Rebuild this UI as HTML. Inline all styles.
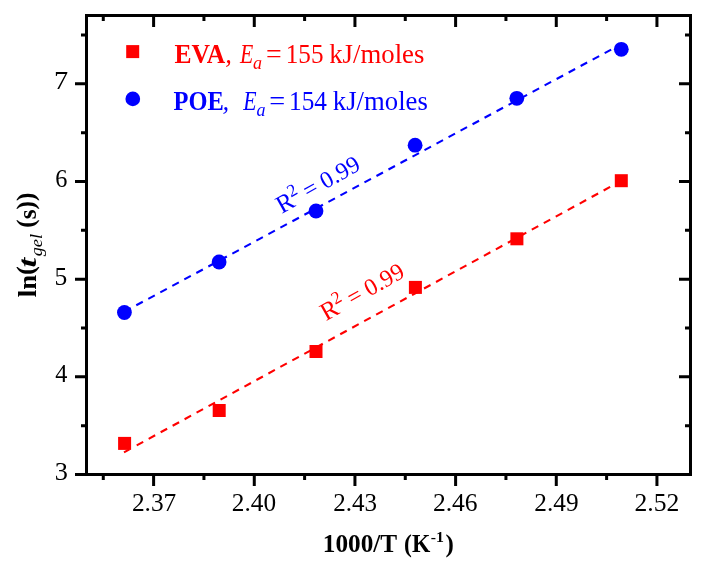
<!DOCTYPE html>
<html><head><meta charset="utf-8"><style>
html,body{margin:0;padding:0;background:#fff;}
body{width:711px;height:569px;overflow:hidden;}
svg{display:block;will-change:transform;}
text{font-family:"Liberation Serif",serif;}

</style></head><body>
<svg width="711" height="569" viewBox="0 0 711 569">
<rect x="0" y="0" width="711" height="569" fill="#fff"/>
<g id="gfx"><path d="M153.61,476.0V486.0 M153.61,14.0V27.0 M254.28,476.0V486.0 M254.28,14.0V27.0 M354.94,476.0V486.0 M354.94,14.0V27.0 M455.61,476.0V486.0 M455.61,14.0V27.0 M556.28,476.0V486.0 M556.28,14.0V27.0 M656.94,476.0V486.0 M656.94,14.0V27.0 M103.28,476.0V480.0 M103.28,14.0V21.0 M203.94,476.0V480.0 M203.94,14.0V21.0 M304.61,476.0V480.0 M304.61,14.0V21.0 M405.28,476.0V480.0 M405.28,14.0V21.0 M505.94,476.0V480.0 M505.94,14.0V21.0 M606.61,476.0V480.0 M606.61,14.0V21.0 M85.0,474.50H75.0 M692.0,474.50H679.0 M85.0,376.84H75.0 M692.0,376.84H679.0 M85.0,279.18H75.0 M692.0,279.18H679.0 M85.0,181.52H75.0 M692.0,181.52H679.0 M85.0,83.86H75.0 M692.0,83.86H679.0 M85.0,425.67H81.0 M692.0,425.67H685.0 M85.0,328.01H81.0 M692.0,328.01H685.0 M85.0,230.35H81.0 M692.0,230.35H685.0 M85.0,132.69H81.0 M692.0,132.69H685.0 M85.0,35.03H81.0 M692.0,35.03H685.0" stroke="#000" stroke-width="3" fill="none"/>
<rect x="86.5" y="15.5" width="604.0" height="459.0" stroke="#000" stroke-width="3" fill="none"/>
<path d="M124,452.3 L621,181.0" stroke="#ff0000" stroke-width="2.1" stroke-dasharray="6.2,8.27,7.4,6.24,7.4,6.24,7.4,6.24,7.4,6.24,7.4,6.24,7.4,6.24,7.4,6.24,7.4,6.24,7.4,6.24,7.4,6.24,7.4,6.24,7.4,6.24,7.4,6.24,7.4,6.24,7.4,6.24,7.4,6.24,7.4,6.24,7.4,6.24,7.4,6.24,7.4,6.24,7.4,6.24,7.4,6.24,7.4,6.24,7.4,6.24,7.4,6.24,7.4,6.24,7.4,6.24,7.4,6.24,7.4,6.24,7.4,6.24,7.4,6.24,7.4,6.24,7.4,6.24,7.4,6.24,7.4,6.24,7.4,6.24,7.4,6.24,7.4,6.24,7.4,6.24,7.4,6.24,7.4,6.24,7.4,6.24,7.4,6.24,7.4,6.24" fill="none"/>
<path d="M124,311.9 L621,44.3" stroke="#0000ff" stroke-width="2.1" stroke-dasharray="7.4,6.24" stroke-dashoffset="-0.3" fill="none"/>
<rect x="118.10" y="436.90" width="13" height="13" fill="#ff0000"/>
<rect x="212.70" y="404.00" width="13" height="13" fill="#ff0000"/>
<rect x="309.50" y="345.00" width="13" height="13" fill="#ff0000"/>
<rect x="408.90" y="280.90" width="13" height="13" fill="#ff0000"/>
<rect x="510.40" y="232.30" width="13" height="13" fill="#ff0000"/>
<rect x="614.80" y="174.20" width="13" height="13" fill="#ff0000"/>
<circle cx="124.40" cy="312.50" r="7.4" fill="#0000ff"/>
<circle cx="219.10" cy="262.00" r="7.4" fill="#0000ff"/>
<circle cx="316.00" cy="211.00" r="7.4" fill="#0000ff"/>
<circle cx="415.10" cy="145.20" r="7.4" fill="#0000ff"/>
<circle cx="516.80" cy="98.30" r="7.4" fill="#0000ff"/>
<circle cx="621.30" cy="49.30" r="7.4" fill="#0000ff"/>
<rect x="126.2" y="45.1" width="13" height="13" fill="#ff0000"/>
<circle cx="132.8" cy="98.9" r="7.35" fill="#0000ff"/></g>
<text id="yl3" transform="translate(54.68,480.10) scale(1.0742,1)" font-size="24.5" fill="#000" >3</text>
<text id="yl4" transform="translate(55.29,382.40) scale(0.9918,1)" font-size="24.5" fill="#000" >4</text>
<text id="yl5" transform="translate(54.44,284.80) scale(1.0424,1)" font-size="24.5" fill="#000" >5</text>
<text id="yl6" transform="translate(55.28,187.00) scale(0.9927,1)" font-size="24.5" fill="#000" >6</text>
<text id="yl7" transform="translate(54.09,89.10) scale(1.1573,1)" font-size="24.5" fill="#000" >7</text>
<text id="xl0" transform="translate(131.88,511.20) scale(1.0367,1)" font-size="24.5" fill="#000" >2.37</text>
<text id="xl1" transform="translate(231.82,511.20) scale(1.0316,1)" font-size="24.5" fill="#000" >2.40</text>
<text id="xl2" transform="translate(333.14,511.20) scale(1.0220,1)" font-size="24.5" fill="#000" >2.43</text>
<text id="xl3" transform="translate(432.92,511.20) scale(1.0438,1)" font-size="24.5" fill="#000" >2.46</text>
<text id="xl4" transform="translate(534.35,511.20) scale(1.0327,1)" font-size="24.5" fill="#000" >2.49</text>
<text id="xl5" transform="translate(634.44,511.20) scale(1.0462,1)" font-size="24.5" fill="#000" >2.52</text>
<text id="L1a" transform="translate(174.46,62.80) scale(0.9649,1)" font-size="26.5" fill="#ff0000" font-weight="bold">EVA</text>
<text id="L1b" transform="translate(225.30,62.80)" font-size="26.5" fill="#ff0000" font-style="italic">,</text>
<text id="L1c" transform="translate(239.90,62.80) scale(0.8200,1)" font-size="26.5" fill="#ff0000" font-style="italic">E</text>
<text id="L1d" transform="translate(253.04,68.50)" font-size="18" fill="#ff0000" font-style="italic">a</text>
<text id="L1e" transform="translate(266.03,62.80) scale(1.0506,1)" font-size="26.5" fill="#ff0000" >=</text>
<text id="L1f" transform="translate(285.77,62.80) scale(0.9491,1)" font-size="26.5" fill="#ff0000" >155</text>
<text id="L1g" transform="translate(329.21,62.80) scale(1.0100,1)" font-size="26.5" fill="#ff0000" >kJ/moles</text>
<text id="L2a" transform="translate(173.48,109.50) scale(0.9236,1)" font-size="26.5" fill="#0000ff" font-weight="bold">POE</text>
<text id="L2b" transform="translate(222.42,109.50)" font-size="26.5" fill="#0000ff" font-style="italic">,</text>
<text id="L2c" transform="translate(243.22,109.50) scale(0.8220,1)" font-size="26.5" fill="#0000ff" font-style="italic">E</text>
<text id="L2d" transform="translate(256.38,115.50)" font-size="18" fill="#0000ff" font-style="italic">a</text>
<text id="L2e" transform="translate(269.35,109.50) scale(1.0678,1)" font-size="26.5" fill="#0000ff" >=</text>
<text id="L2f" transform="translate(289.04,109.50) scale(0.9528,1)" font-size="26.5" fill="#0000ff" >154</text>
<text id="L2g" transform="translate(332.80,109.50) scale(1.0085,1)" font-size="26.5" fill="#0000ff" >kJ/moles</text>
<text id="XT1" transform="translate(322.75,552.00) scale(1.0121,1)" font-size="25" fill="#000" font-weight="bold">1000/T</text>
<text id="XT2" transform="translate(404.12,552.00) scale(0.9423,1)" font-size="25" fill="#000" font-weight="bold">(K</text>
<text id="XT3" transform="translate(430.67,541.50) scale(1.0548,1)" font-size="15" fill="#000" font-weight="bold">-1</text>
<text id="XT4" transform="translate(445.40,552.00)" font-size="25" fill="#000" font-weight="bold">)</text>
<text id="YT1" transform="translate(35.90,297.25) rotate(-90) scale(1.0731,1)" font-size="25" fill="#000" font-weight="bold">ln<tspan dy="-2.3">(</tspan></text>
<text id="YT2" transform="translate(35.90,267.56) rotate(-90) scale(1.3804,1)" font-size="25" fill="#000" font-weight="bold" font-style="italic">t</text>
<text id="YT3" transform="translate(41.50,256.34) rotate(-90) scale(1.0752,1)" font-size="17" fill="#000" font-style="italic">gel</text>
<text id="YT4" transform="translate(35.90,227.74) rotate(-90) scale(1.0097,1)" font-size="25" fill="#000" font-weight="bold"><tspan dy="-2.3">(</tspan><tspan dy="2.3">s</tspan><tspan dy="-2.3">))</tspan></text>
<text id="R2r" transform="translate(326.00,321.20) rotate(-29.3)" font-size="24" fill="#ff0000" ><tspan font-size="25.3">R</tspan><tspan font-size="17.5" dx="-0.8" dy="-9.8">2</tspan><tspan dx="-0.4" dy="9.8"> = 0.99</tspan></text>
<text id="R2b" transform="translate(281.80,214.00) rotate(-29.3)" font-size="24" fill="#0000ff" ><tspan font-size="25.3">R</tspan><tspan font-size="17.5" dx="-0.8" dy="-9.8">2</tspan><tspan dx="-0.4" dy="9.8"> = 0.99</tspan></text>
</svg>
</body></html>
